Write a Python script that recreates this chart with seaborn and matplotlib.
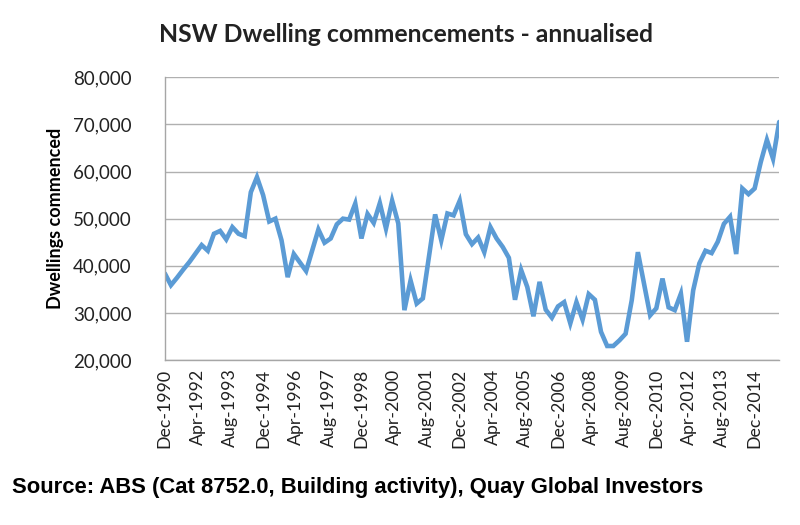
import numpy as np
import pandas as pd
import seaborn as sns
import matplotlib.pyplot as plt
from matplotlib.ticker import FuncFormatter

# Quarterly, Dec-1990 .. Dec-2015
commenced = [
    38400, 35900, 37500, 39200, 40800, 42600, 44400, 43200, 46800, 47400,
    45600, 48200, 46800, 46300, 55600, 58800, 55000, 49400, 50000, 45400,
    37600, 42500, 40700, 38900, 43300, 47700, 44900, 45800, 48800, 50000,
    49800, 53200, 45800, 51000, 49100, 53300, 47900, 53800, 49000, 30600,
    36900, 32000, 33100, 42000, 50900, 45400, 51100, 50700, 53800, 46700,
    44600, 46000, 42900, 48200, 45800, 44000, 41700, 32800, 39100, 35500,
    29300, 36600, 30700, 29000, 31400, 32300, 27800, 32300, 28600, 34000,
    32800, 26000, 23000, 23000, 24200, 25600, 32700, 42900, 36200, 29500,
    31000, 37300, 31200, 30600, 34100, 23900, 34800, 40500, 43200, 42700,
    45100, 48900, 50400, 42500, 56400, 55200, 56400, 62000, 66700, 62700,
    70500,
]

tick_labels = [
    "Dec-1990", "Apr-1992", "Aug-1993", "Dec-1994", "Apr-1996", "Aug-1997",
    "Dec-1998", "Apr-2000", "Aug-2001", "Dec-2002", "Apr-2004", "Aug-2005",
    "Dec-2006", "Apr-2008", "Aug-2009", "Dec-2010", "Apr-2012", "Aug-2013",
    "Dec-2014",
]

y_ticks = [20000, 30000, 40000, 50000, 60000, 70000, 80000]

# months since Dec-1990
df = pd.DataFrame({"month": np.arange(len(commenced)) * 3, "value": commenced})

sns.set_theme(style="white")
plt.rcParams["font.family"] = ["Lato", "DejaVu Sans"]

fig = plt.figure(figsize=(8, 5.25), dpi=100)
ax = fig.add_axes([0.206, 0.314, 0.768, 0.539])

sns.lineplot(data=df, x="month", y="value", ax=ax, color="#5B9BD5",
             linewidth=3.3, solid_joinstyle="miter")

ax.set_xlim(0, df["month"].max())
ax.set_ylim(y_ticks[0], y_ticks[-1])
ax.set_yticks(y_ticks)
ax.yaxis.set_major_formatter(FuncFormatter(lambda v, p: f"{v:,.0f}"))
ax.set_xticks(np.arange(len(tick_labels)) * 16)
ax.set_xticklabels(tick_labels, rotation=90)

ax.grid(axis="y", color="#B0B0B0", linewidth=1.0)
ax.grid(axis="x", visible=False)
for side in ["top", "right"]:
    ax.spines[side].set_visible(False)
for side in ["left", "bottom"]:
    ax.spines[side].set_color("#A6A6A6")
    ax.spines[side].set_linewidth(1.0)

ax.tick_params(axis="y", length=0, pad=24, labelsize=13.5, labelcolor="#222222")
ax.tick_params(axis="x", length=0, pad=6, labelsize=12.8, labelcolor="#222222")
ax.set_xlabel("")
ax.set_ylabel("")

fig.text(406 / 800, 1 - 35 / 525, "NSW Dwelling commencements - annualised",
         ha="center", va="center", fontsize=17.8, fontweight="bold", color="#222222")
fig.text(55 / 800, 1 - 218 / 525, "Dwellings commenced", rotation=90,
         ha="center", va="center", fontsize=13, fontweight="bold", color="black")
fig.text(12 / 800, 1 - 488 / 525,
         "Source: ABS (Cat 8752.0, Building activity), Quay Global Investors",
         ha="left", va="center", fontsize=15.8, fontweight="bold", color="black",
         family=["Liberation Sans", "DejaVu Sans"])

fig.savefig("out.png", dpi=100)
